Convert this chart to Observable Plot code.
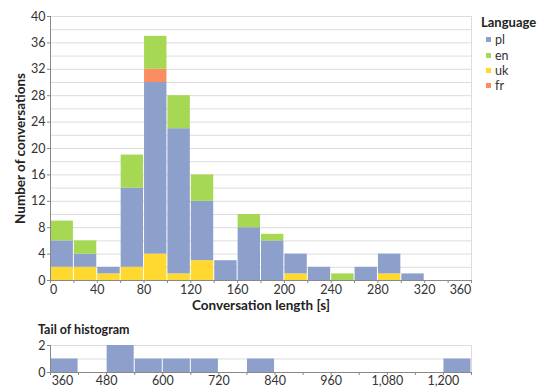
<!DOCTYPE html>
<html><head><meta charset="utf-8">
<script src="https://cdn.jsdelivr.net/npm/d3@7"></script>
<script src="https://cdn.jsdelivr.net/npm/@observablehq/plot@0.6"></script>
<style>
body{margin:0;background:#fff;font-family:Lato,sans-serif;}
#wrap{position:relative;width:545px;height:389px;overflow:hidden;}
#main{position:absolute;left:0;top:0;}
#tail{position:absolute;left:0;top:318px;}
#legend{position:absolute;left:481px;top:15px;font-size:12.5px;color:#333;line-height:15.3px;}
#legend .t{font-weight:bold;font-size:13px;color:#222;margin-bottom:2px;}
#legend .i{display:flex;align-items:center;}
#legend .s{width:5px;height:5px;margin:0 4px 0 5px;}
#tailTitle{position:absolute;left:38px;top:322px;font-weight:bold;font-size:12.5px;color:#222;}
</style></head><body>
<div id="wrap"><div id="main"></div><div id="legend"></div><div id="tailTitle">Tail of histogram</div><div id="tail"></div></div>
<script>
// ---- data ----
const binStarts = [0,20,40,60,80,100,120,140,160,180,200,220,240,260,280,300,320,340];
const binWidth = 20;
const languages = ["pl","en","uk","fr"];
const languageColors = ["#8da0cb","#a6d854","#ffd92f","#fc8d62"];
const stackOrder = ["uk","pl","fr","en"];
const plCounts = [4,2,1,12,26,22,9,3,8,6,3,2,0,2,3,1,0,0];
const enCounts = [3,2,0,5,5,5,4,0,2,1,0,0,1,0,0,0,0,0];
const ukCounts = [2,2,1,2,4,1,3,0,0,0,1,0,0,0,1,0,0,0];
const frCounts = [0,0,0,0,2,0,0,0,0,0,0,0,0,0,0,0,0,0];
const mainXTicks = [0,20,40,60,80,100,120,140,160,180,200,220,240,260,280,300,320,340,360];
const mainXLabels = [0,40,80,120,160,200,240,280,320,360];
const mainYGrid = [0,2,4,6,8,10,12,14,16,18,20,22,24,26,28,30,32,34,36,38,40];
const mainYLabels = [0,4,8,12,16,20,24,28,32,36,40];

const tailStarts = [360,420,480,540,600,660,720,780,840,900,960,1020,1080,1140,1200];
const tailWidth = 60;
const tailCounts = [1,0,2,1,1,1,0,1,0,0,0,0,0,0,1];
const tailXTicks = [360,420,480,540,600,660,720,780,840,900,960,1020,1080,1140,1200,1260];
const tailXLabels = [360,480,600,720,840,960,1080,1200];
const tailYGrid = [0,1,2];
const tailYLabels = [0,2];

const countsBy = {pl: plCounts, en: enCounts, uk: ukCounts, fr: frCounts};
const rows = [];
for (const lang of stackOrder) {
  binStarts.forEach((s, i) => rows.push({x1: s, x2: s + binWidth, count: countsBy[lang][i], lang}));
}
const tailRows = tailStarts.map((s, i) => ({x1: s, x2: s + tailWidth, count: tailCounts[i]}));

const axisStyle = {stroke: "#888", fill: "#333"};
const fmt = d3.format(",");

const main = Plot.plot({
  width: 545, height: 318,
  marginLeft: 50, marginRight: 74, marginTop: 16, marginBottom: 38,
  style: {fontFamily: "Lato, sans-serif", fontSize: "12.5px", color: "#333", background: "transparent"},
  x: {domain: [0, 360], label: null},
  y: {domain: [0, 40], label: null},
  color: {domain: languages, range: languageColors},
  marks: [
    Plot.gridY(mainYGrid, {stroke: "#ddd", strokeOpacity: 1}),
    Plot.frame({stroke: "#ddd"}),
    Plot.rectY(rows, {x1: "x1", x2: "x2", y: "count", fill: "lang", order: stackOrder, insetLeft: 0.5, insetRight: 0.5}),
    Plot.ruleY([0], {stroke: "#888"}),
    Plot.ruleX([0], {stroke: "#888"}),
    Plot.axisY(mainYLabels, {...axisStyle, tickSize: 3, tickPadding: 2, label: null}),
    Plot.axisX(mainXTicks, {...axisStyle, tickSize: 3, tickPadding: 2, label: null,
      tickFormat: d => (mainXLabels.includes(d) && d !== mainXLabels[0] && d !== mainXLabels[mainXLabels.length-1]) ? d : ""}),
    Plot.axisX([mainXLabels[0]], {...axisStyle, tickSize: 0, tickPadding: 5, dx: 3, label: null}),
    Plot.axisX([mainXLabels[mainXLabels.length-1]], {...axisStyle, tickSize: 0, tickPadding: 5, dx: -11, label: null}),
    Plot.text(["Conversation length [s]"], {frameAnchor: "bottom", textAnchor: "middle", lineAnchor: "middle", dy: 25, fontWeight: "bold", fontSize: 13.5, fill: "#222"}),
    Plot.text(["Number of conversations"], {frameAnchor: "left", textAnchor: "middle", lineAnchor: "middle", rotate: -90, dx: -30, fontWeight: "bold", fontSize: 13.5, fill: "#222"})
  ]
});
document.getElementById("main").append(main);

const tail = Plot.plot({
  width: 545, height: 71,
  marginLeft: 50, marginRight: 74, marginTop: 27, marginBottom: 17,
  style: {fontFamily: "Lato, sans-serif", fontSize: "12.5px", color: "#333", background: "transparent"},
  x: {domain: [360, 1260], label: null},
  y: {domain: [0, 2], label: null},
  marks: [
    Plot.gridY(tailYGrid, {stroke: "#ddd", strokeOpacity: 1}),
    Plot.frame({stroke: "#ddd"}),
    Plot.rectY(tailRows, {x1: "x1", x2: "x2", y: "count", fill: languageColors[0], insetLeft: 0.5, insetRight: 0.5}),
    Plot.ruleY([0], {stroke: "#888"}),
    Plot.ruleX([360], {stroke: "#888"}),
    Plot.axisY(tailYLabels, {...axisStyle, tickSize: 3, tickPadding: 2, label: null}),
    Plot.axisX(tailXTicks, {...axisStyle, tickSize: 3, tickPadding: 1, label: null,
      tickFormat: d => (tailXLabels.includes(d) && d !== tailXLabels[0]) ? fmt(d) : ""}),
    Plot.axisX([tailXLabels[0]], {...axisStyle, tickSize: 0, tickPadding: 4, dx: 12, label: null, tickFormat: fmt})
  ]
});
document.getElementById("tail").append(tail);

const legend = document.getElementById("legend");
legend.innerHTML = `<div class="t">Language</div>` + languages.map((l, i) =>
  `<div class="i"><span class="s" style="background:${languageColors[i]}"></span>${l}</div>`).join("");
</script>
</body></html>
